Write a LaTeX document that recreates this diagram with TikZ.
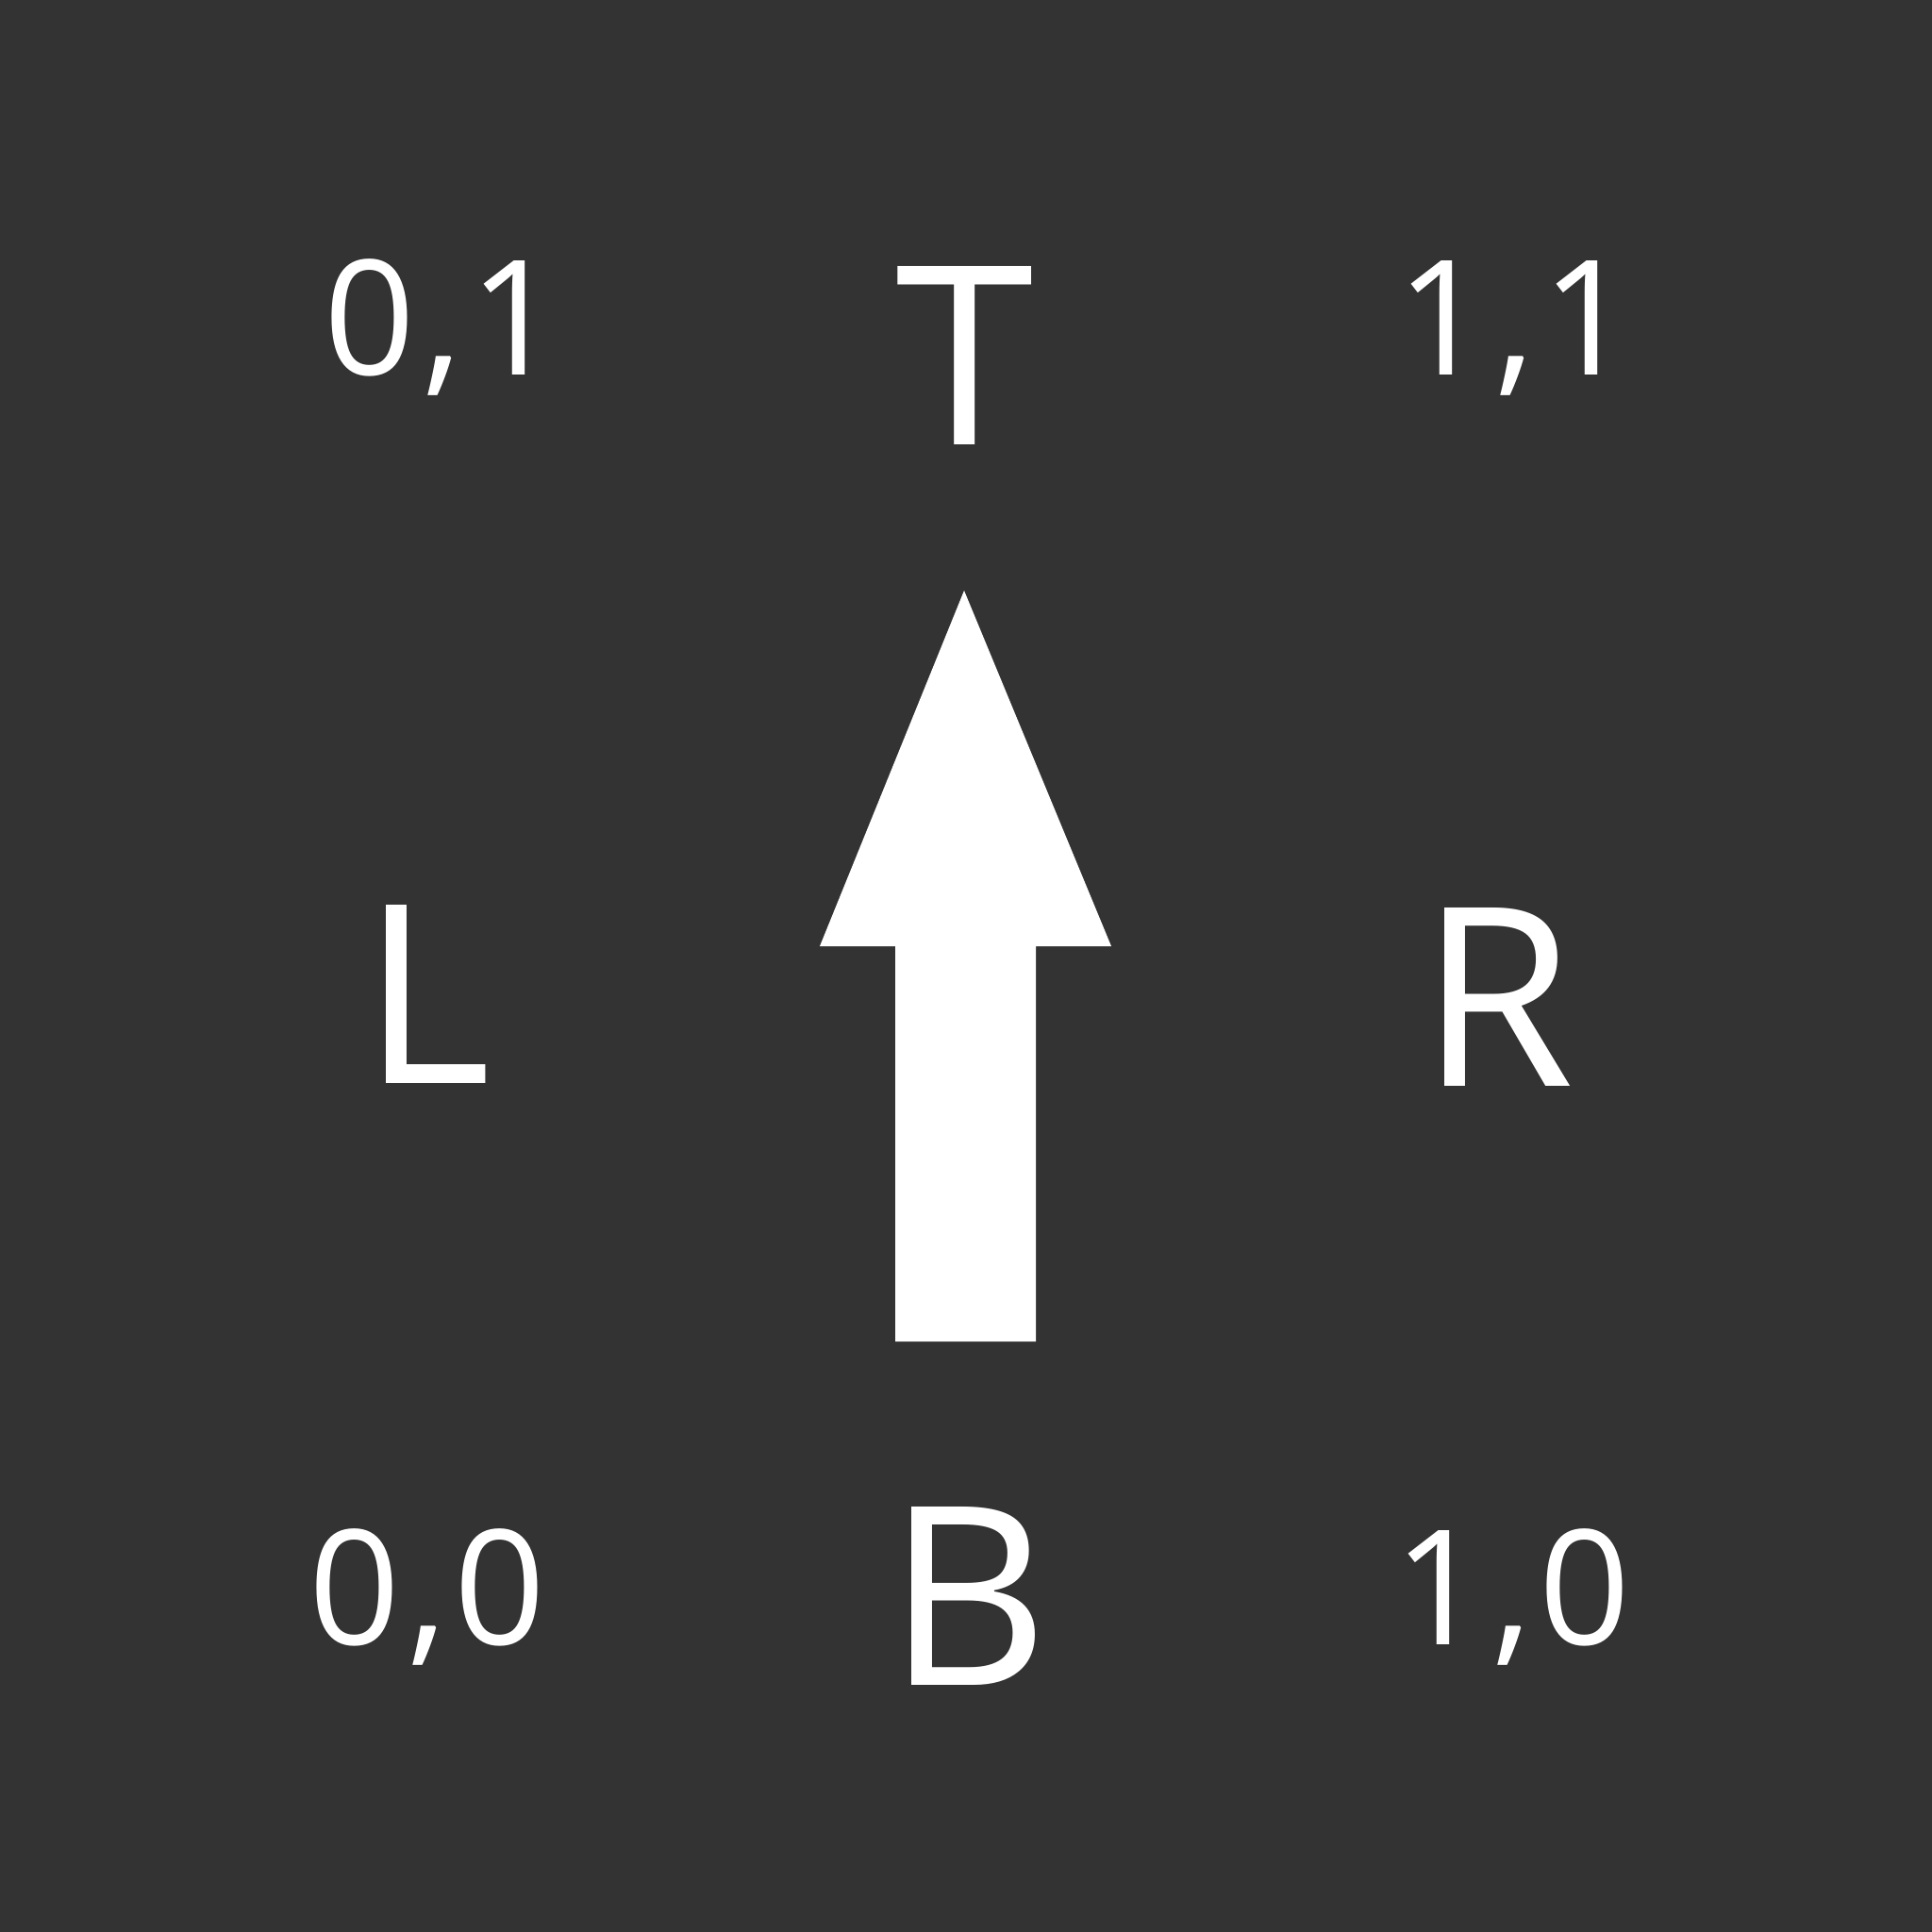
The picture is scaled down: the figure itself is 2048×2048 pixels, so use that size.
\documentclass[tikz,border=0pt]{standalone}
\usepackage{fontspec}
\setmainfont{Open Sans}
\definecolor{bg}{HTML}{333333}
\newcommand{\cm}{\kern0.045em,\kern0.045em}
\begin{document}
\begin{tikzpicture}[x=0.01cm,y=-0.01cm,
  big/.style={text=white,inner sep=0pt,anchor=base,font=\fontsize{75.3}{80}\selectfont},
  small/.style={text=white,inner sep=0pt,anchor=base,font=\fontsize{48.2}{52}\selectfont}]
\fill[bg] (0,0) rectangle (2048,2048);
\useasboundingbox (0,0) rectangle (2048,2048);
\fill[white] (1022,626) -- (1178,1003) -- (1098,1003) -- (1098,1422) -- (949,1422) -- (949,1003) -- (869,1003) -- cycle;
\node[big] (T) at (1023,471) {T};
\node[big] (L) at (452,1148) {L};
\node[big] (R) at (1587,1151) {R};
\node[big] (B) at (1026,1786) {B};
\node[small] (c01) at (469,397) {0\cm1};
\node[small] (c11) at (1606,397) {1\cm1};
\node[small] (c00) at (453,1743) {0\cm0};
\node[small] (c10) at (1603,1743) {1\cm0};
\end{tikzpicture}
\end{document}
